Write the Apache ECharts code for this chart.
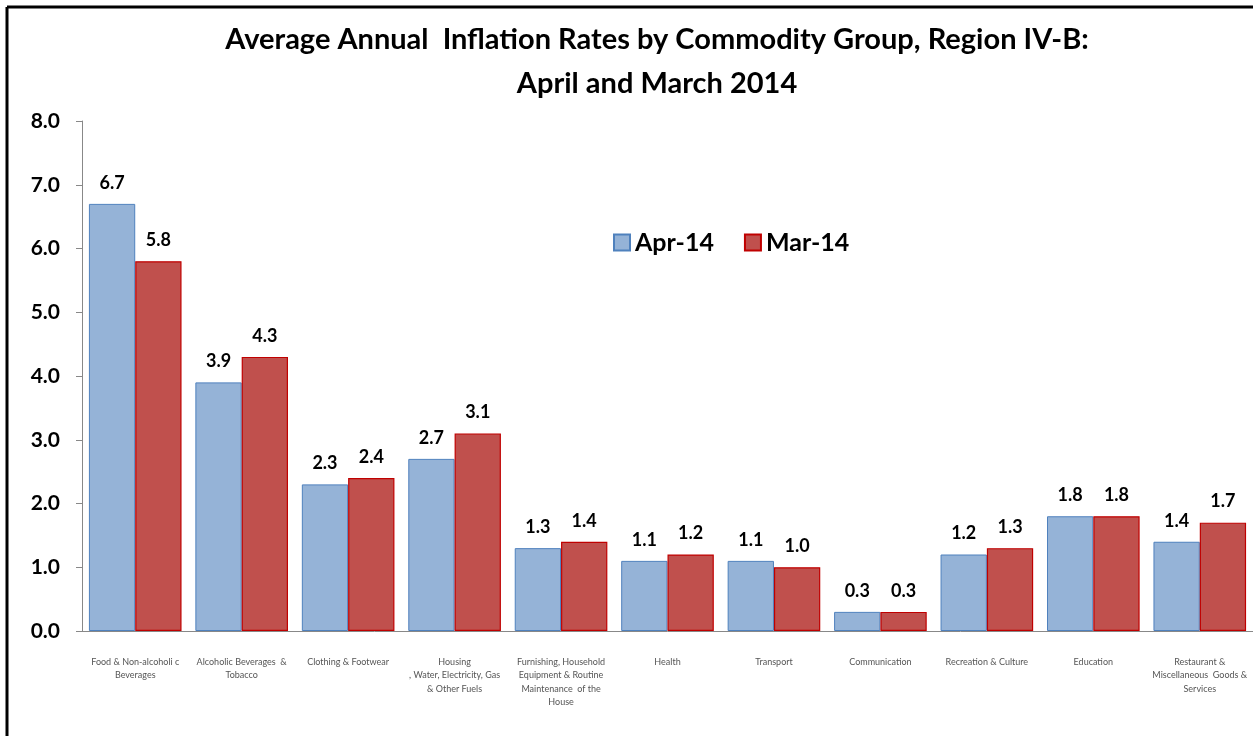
<!DOCTYPE html>
<html><head><meta charset="utf-8">
<script src="https://cdn.jsdelivr.net/npm/echarts@6/dist/echarts.min.js"></script>
<style>html,body{margin:0;padding:0;background:#fff}#c{width:1253px;height:736px}</style>
</head><body><div id="c"></div>
<script>
const categories = [
  "Food & Non-alcoholi c\nBeverages",
  "Alcoholic Beverages  &\nTobacco",
  "Clothing & Footwear",
  "Housing\n, Water, Electricity, Gas\n& Other Fuels",
  "Furnishing, Household\nEquipment & Routine\nMaintenance  of the\nHouse",
  "Health",
  "Transport",
  "Communication",
  "Recreation & Culture",
  "Education",
  "Restaurant &\nMiscellaneous  Goods &\nServices"
];
const apr14 = [6.7, 3.9, 2.3, 2.7, 1.3, 1.1, 1.1, 0.3, 1.2, 1.8, 1.4];
const mar14 = [5.8, 4.3, 2.4, 3.1, 1.4, 1.2, 1.0, 0.3, 1.3, 1.8, 1.7];
const yTicks = [0, 1, 2, 3, 4, 5, 6, 7, 8];

const chart = echarts.init(document.getElementById('c'));
const labelStyle = {show: true, position: 'top', distance: 12, fontFamily: 'Lato, sans-serif', fontWeight: 'bold', fontSize: 18, color: '#000', formatter: p => p.value.toFixed(1)};
chart.setOption({
  backgroundColor: '#fff',
  animation: false,
  title: {
    text: 'Average Annual  Inflation Rates by Commodity Group, Region IV-B:\nApril and March 2014',
    left: 652, textAlign: 'center', top: 13,
    textStyle: {fontFamily: 'Lato, sans-serif', fontWeight: 'bold', fontSize: 29, lineHeight: 44, color: '#000'}
  },
  legend: {
    left: 608, top: 225, itemWidth: 16, itemHeight: 16, itemGap: 30, icon: 'rect',
    textStyle: {fontFamily: 'Lato, sans-serif', fontSize: 25, fontWeight: 'bold', color: '#000'},
    data: ['Apr-14', 'Mar-14']
  },
  graphic: [
    {type: 'line', shape: {x1: 7, y1: 7, x2: 1253, y2: 7}, style: {stroke: '#000', lineWidth: 3}},
    {type: 'line', shape: {x1: 7, y1: 7, x2: 7, y2: 736}, style: {stroke: '#000', lineWidth: 3}}
  ],
  grid: {left: 82, right: -2, top: 121, bottom: 105},
  xAxis: {
    type: 'category', data: categories,
    axisLine: {lineStyle: {color: '#888'}},
    axisTick: {length: 5, lineStyle: {color: '#888'}},
    axisLabel: {interval: 0, margin: 24, fontFamily: 'Lato, sans-serif', fontSize: 9, lineHeight: 13.5, color: '#555'}
  },
  yAxis: {
    type: 'value', min: 0, max: 8, interval: 1,
    splitLine: {show: false},
    axisLine: {show: true, lineStyle: {color: '#888'}},
    axisTick: {show: true, length: 6, lineStyle: {color: '#888'}},
    axisLabel: {margin: 22, fontFamily: 'Lato, sans-serif', fontWeight: 'bold', fontSize: 21, color: '#000', formatter: v => v.toFixed(1)}
  },
  series: [
    {name: 'Apr-14', type: 'bar', data: apr14, barWidth: '43.5%', barGap: '0%',
     itemStyle: {color: '#95B3D7', borderColor: '#4F81BD', borderWidth: 1}, label: labelStyle},
    {name: 'Mar-14', type: 'bar', data: mar14, barWidth: '43.5%',
     itemStyle: {color: '#C0504D', borderColor: '#C00000', borderWidth: 1.2}, label: labelStyle}
  ]
});
</script></body></html>
